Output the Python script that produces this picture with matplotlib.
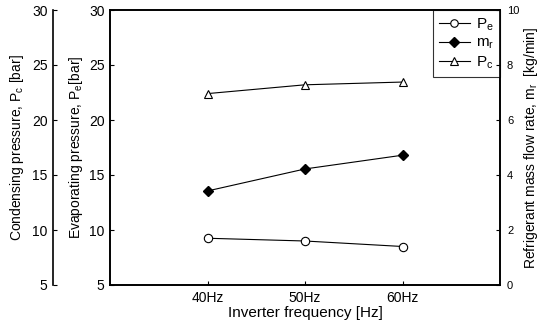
import matplotlib
matplotlib.use("Agg")
import matplotlib.pyplot as plt

plt.rcParams['font.family'] = ['Liberation Sans', 'DejaVu Sans']
plt.rcParams['mathtext.fontset'] = 'custom'
plt.rcParams['mathtext.rm'] = 'Liberation Sans'
plt.rcParams['mathtext.it'] = 'Liberation Sans'

categories = ["40Hz", "50Hz", "60Hz"]
pe = [9.25, 9.0, 8.5]
mr = [3.42, 4.22, 4.72]
pc = [22.4, 23.2, 23.45]

fig = plt.figure(figsize=(5.4, 3.28), dpi=100)
ax = fig.add_axes([110/540, 1-285/328, 390/540, 275/328])
xs = [1, 2, 3]
lw = 0.8
l1, = ax.plot(xs, pe, '-', color='black', lw=lw, marker='o', ms=6, mfc='white', mec='black', mew=0.8, label=r'P$_\mathregular{e}$')
l3, = ax.plot(xs, pc, '-', color='black', lw=lw, marker='^', ms=6, mfc='white', mec='black', mew=0.8, label=r'P$_\mathregular{c}$')
ax.set_xlim(0, 4)
ax.set_ylim(5, 30)
ax.set_xticks(xs)
ax.set_xticklabels(categories)
ax.set_yticks([5, 10, 15, 20, 25, 30])
ax.tick_params(direction='in', labelsize=10, length=3, width=0.8, pad=4)
ax.set_xlabel('Inverter frequency [Hz]', fontsize=11, labelpad=1)
ax.set_ylabel(r'Evaporating pressure, P$_\mathregular{e}$[bar]', fontsize=10, labelpad=3)
for s in ax.spines.values():
    s.set_linewidth(1.2)

ax2 = ax.twinx()
l2, = ax2.plot(xs, mr, '-', color='black', lw=lw, marker='D', ms=5.5, mfc='black', mec='black', label=r'm$_\mathregular{r}$')
ax2.set_ylim(0, 10)
ax2.set_yticks([0, 2, 4, 6, 8, 10])
ax2.tick_params(direction='in', labelsize=8, length=3, width=0.8, pad=5)
ax2.set_ylabel(r'Refrigerant mass flow rate, m$_\mathregular{r}$  [kg/min]', fontsize=10, labelpad=2)
for s in ax2.spines.values():
    s.set_linewidth(1.2)

ax3 = ax.twinx()
ax3.spines['left'].set_position(('axes', -57/390))
ax3.spines['left'].set_visible(True)
ax3.spines['left'].set_linewidth(1.2)
for k in ['right', 'top', 'bottom']:
    ax3.spines[k].set_visible(False)
ax3.yaxis.set_ticks_position('left')
ax3.yaxis.set_label_position('left')
ax3.set_ylim(5, 30)
ax3.set_yticks([5, 10, 15, 20, 25, 30])
ax3.tick_params(axis='y', direction='in', labelsize=10, length=3, width=0.8, pad=4)
ax3.set_ylabel(r'Condensing pressure, P$_\mathregular{c}$ [bar]', fontsize=10, labelpad=4)

leg = ax.legend(handles=[l1, l2, l3], loc='upper right', fontsize=11, frameon=True,
                fancybox=False, edgecolor='black', borderaxespad=0, handlelength=2.0,
                labelspacing=0.22, borderpad=0.4, handletextpad=0.4, markerscale=0.9)
leg.get_frame().set_linewidth(0.8)
leg.set_zorder(10)

fig.savefig('out.png', dpi=100)
